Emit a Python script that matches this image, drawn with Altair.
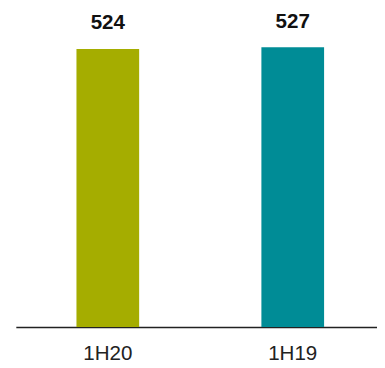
import altair as alt
import pandas as pd

categories = ["1H20", "1H19"]
values = [524, 527]
colors = ["#a5ad00", "#008c96"]

df = pd.DataFrame({"cat": categories, "value": values, "color": colors})

x = alt.X("cat:N", sort=categories, title=None,
          scale=alt.Scale(paddingInner=0.661, paddingOuter=0.307, align=0.534),
          axis=alt.Axis(labelAngle=0, ticks=False, domainColor="#222222", domainWidth=1.5,
                        labelFont="Liberation Sans", labelFontSize=21, labelColor="#222222",
                        labelPadding=16, grid=False))
y = alt.Y("value:Q", title=None, scale=alt.Scale(domain=[0, 594], nice=False, zero=True), axis=None)

bars = alt.Chart(df).mark_bar().encode(x=x, y=y, color=alt.Color("color:N", scale=None))
text = alt.Chart(df).mark_text(baseline="bottom", dy=-16, font="Liberation Sans",
                               fontWeight="bold", fontSize=21, color="#111111").encode(
    x=alt.X("cat:N", sort=categories), y="value:Q", text="value:Q")

chart = (bars + text).properties(
    width=369, height=322,
    autosize=alt.AutoSizeParams(type="none"),
    padding={"left": 8, "top": 0, "right": 0, "bottom": 37},
).configure_view(stroke=None)

chart.save("out.html", embed_options={"renderer": "svg", "actions": False})
